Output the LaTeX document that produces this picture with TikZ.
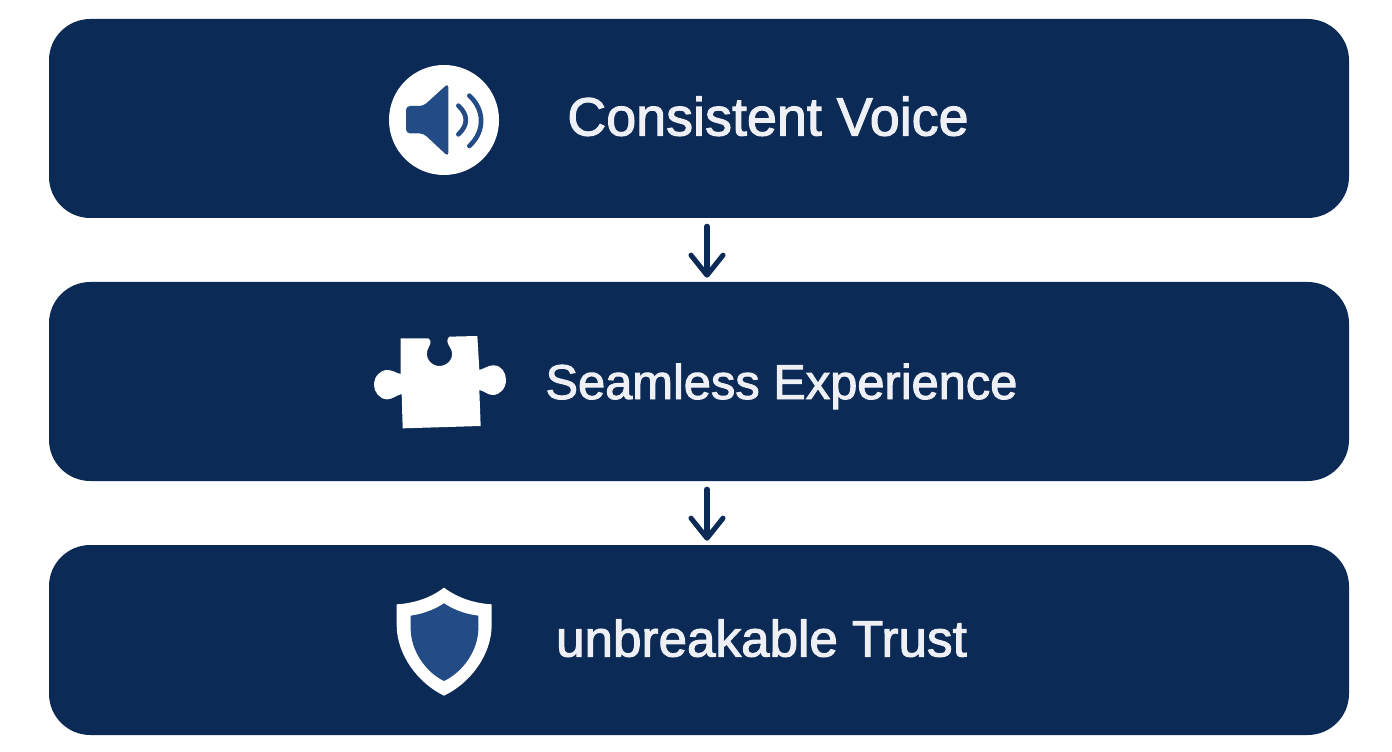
\documentclass[tikz,border=0pt]{standalone}
\usepackage{fontspec}
\setmainfont{Liberation Sans}[FakeBold=2]
\usetikzlibrary{arrows.meta}
\definecolor{navy}{HTML}{0B2A55}
\definecolor{iconblue}{HTML}{234B85}
\definecolor{labelwhite}{HTML}{EEF0F5}
\tikzset{
	band/.style = {
		rectangle,
		rounded corners=31pt,
		fill=navy,
		inner sep=0pt,
		minimum width=975pt
	},
	label/.style = {
		inner sep=0pt,
		anchor=base,
		text=labelwhite
	},
	flow/.style = {
		navy,
		line width=3.8pt,
		line cap=round,
		-{Straight Barb[length=15pt,width=24pt,line width=3.8pt,round]},
		shorten >=3pt,
		shorten <=6pt
	},
	iconscale/.style = {
		x=0.25pt,
		y=-0.25pt
	},
}

\begin{document}
\begin{tikzpicture}[x=0.75pt,y=-0.75pt]
\useasboundingbox (0,0) rectangle (1392,752);
% bands
\node [band, minimum height=149.25pt] (voice) at (699,118.5) {};
\node [band, minimum height=149.25pt] (experience) at (699,381.5) {};
\node [band, minimum height=142.5pt] (trust) at (699,640) {};
% labels
\node [label, font=\fontsize{40.4}{40}\selectfont] (voicetext) at (768,135.5) {Consistent Voice};
\node [label, font=\fontsize{36.6}{40}\selectfont] (experiencetext) at (781.5,399) {Seamless Experience};
\node [label, font=\fontsize{38.4}{40}\selectfont] (trusttext) at (761.5,656.5) {unbreakable Trust};
% arrows
\coordinate (arrowx) at (707,0);
\draw [flow] (voice.south -| arrowx) -- (experience.north -| arrowx);
\draw [flow] (experience.south -| arrowx) -- (trust.north -| arrowx);
% speaker
\node [circle, fill=white, inner sep=0pt, minimum size=82.5pt] (speaker) at (444,120) {};
\begin{scope}[shift={(370,50)}, iconscale]
\fill [iconblue, rounded corners=3pt] (108,168) -- (160,168) -- (235,100) -- (235,320) -- (160,250) -- (108,250) -- cycle;
\draw [iconblue, line width=3.5pt, line cap=round] (265,167) .. controls (295,195) and (295,225) .. (265,253);
\draw [iconblue, line width=3.5pt, line cap=round] (298,137) .. controls (345,180) and (345,245) .. (298,288);
\end{scope}
% puzzle piece
\begin{scope}[shift={(360,320)}, iconscale]
\fill [white] (122,55) -- (205,55) .. controls (215,62) and (212,72) .. (206,82)
	.. controls (190,110) and (212,138) .. (238,138) .. controls (265,138) and (288,110) .. (270,82)
	.. controls (262,70) and (258,58) .. (268,50) -- (352,48) -- (358,150)
	.. controls (375,145) and (385,136) .. (400,136) .. controls (425,136) and (438,158) .. (438,180)
	.. controls (438,205) and (420,225) .. (398,225) .. controls (382,225) and (372,212) .. (358,210)
	-- (362,318) -- (128,325) -- (125,222)
	.. controls (110,225) and (98,238) .. (82,238) .. controls (58,238) and (42,215) .. (42,195)
	.. controls (42,170) and (60,150) .. (82,150) .. controls (98,150) and (110,160) .. (122,162) -- cycle;
\end{scope}
% shield
\begin{scope}[shift={(380,575)}, iconscale]
\fill [white] (192,38) .. controls (235,70) and (285,85) .. (335,88)
	-- (335,150) .. controls (335,240) and (270,325) .. (192,362)
	.. controls (115,325) and (50,240) .. (50,150) -- (50,88)
	.. controls (100,85) and (150,70) .. (192,38) -- cycle;
\fill [iconblue] (192,85) .. controls (222,105) and (258,118) .. (295,122)
	-- (295,160) .. controls (295,225) and (250,290) .. (192,318)
	.. controls (135,290) and (92,225) .. (92,160) -- (92,122)
	.. controls (125,118) and (162,105) .. (192,85) -- cycle;
\end{scope}
\end{tikzpicture}
\end{document}
